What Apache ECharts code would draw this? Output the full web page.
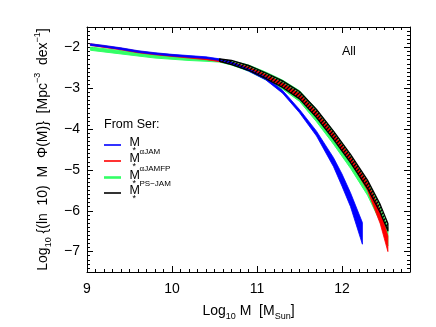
<!DOCTYPE html>
<html>
<head>
<meta charset="utf-8">
<script src="https://cdn.jsdelivr.net/npm/echarts@6/dist/echarts.min.js"></script>
<style>
html,body{margin:0;padding:0;background:#fff;}
#chart{width:436px;height:327px;}
</style>
</head>
<body>
<div id="chart"></div>
<script>
// ---- Data ----
const xTicks = [9, 10, 11, 12];
const yTicks = [-7, -6, -5, -4, -3, -2];

// M* (blue)
const blueX  = [9.04, 9.2, 9.4, 9.6, 9.8, 10.0, 10.2, 10.4, 10.56, 10.7, 10.9, 11.1, 11.3, 11.5, 11.7, 11.9, 12.0, 12.1, 12.24];
const blueHi = [-1.91, -1.95, -2.01, -2.08, -2.13, -2.17, -2.20, -2.23, -2.28, -2.36, -2.53, -2.73, -3.05, -3.52, -4.05, -4.70, -5.10, -5.56, -6.29];
const blueLo = [-1.95, -1.99, -2.05, -2.12, -2.17, -2.21, -2.24, -2.27, -2.32, -2.40, -2.58, -2.79, -3.12, -3.60, -4.17, -4.92, -5.40, -5.90, -6.82];

// M*^alphaJAM (red)
const redX  = [9.04, 9.2, 9.4, 9.6, 9.8, 10.0, 10.2, 10.4, 10.56, 10.7, 10.9, 11.1, 11.3, 11.5, 11.7, 11.9, 12.1, 12.3, 12.45, 12.54];
const redHi = [-1.91, -1.96, -2.02, -2.09, -2.14, -2.18, -2.22, -2.26, -2.31, -2.36, -2.48, -2.66, -2.87, -3.13, -3.58, -4.11, -4.68, -5.31, -6.00, -6.62];
const redLo = [-1.95, -2.00, -2.06, -2.13, -2.18, -2.22, -2.26, -2.30, -2.35, -2.40, -2.54, -2.74, -2.96, -3.24, -3.70, -4.23, -4.80, -5.50, -6.32, -7.00];

// M*^alphaJAMFP (green)
const greenX  = [9.04, 9.2, 9.4, 9.6, 9.8, 10.0, 10.2, 10.4, 10.56, 10.7, 10.9, 11.1, 11.3, 11.5, 11.7, 11.9, 12.1, 12.3, 12.45, 12.54];
const greenHi = [-1.99, -2.03, -2.08, -2.13, -2.18, -2.22, -2.25, -2.28, -2.29, -2.33, -2.43, -2.60, -2.80, -3.06, -3.52, -4.06, -4.64, -5.28, -5.90, -6.42];
const greenLo = [-2.07, -2.11, -2.16, -2.21, -2.26, -2.29, -2.32, -2.34, -2.36, -2.43, -2.58, -2.79, -3.02, -3.32, -3.82, -4.37, -4.96, -5.62, -6.27, -6.86];

// M*^PS-JAM (black, hatched)
const blackX  = [10.56, 10.7, 10.9, 11.1, 11.3, 11.5, 11.7, 11.9, 12.1, 12.3, 12.45, 12.54];
const blackHi = [-2.28, -2.32, -2.44, -2.62, -2.82, -3.08, -3.52, -4.05, -4.62, -5.25, -5.85, -6.31];
const blackLo = [-2.34, -2.42, -2.56, -2.76, -2.98, -3.26, -3.72, -4.25, -4.82, -5.45, -6.05, -6.49];

// ---- Chart ----
const FONT = 'Liberation Sans';
const chart = echarts.init(document.getElementById('chart'), null, {renderer: 'canvas'});

// hatch pattern for the black band
const pc = document.createElement('canvas');
pc.width = 4; pc.height = 4;
const pctx = pc.getContext('2d');
pctx.strokeStyle = '#000'; pctx.lineWidth = 1.3;
pctx.beginPath(); pctx.moveTo(-1, 5); pctx.lineTo(5, -1); pctx.stroke();
pctx.beginPath(); pctx.moveTo(-1, 1); pctx.lineTo(1, -1); pctx.stroke();
pctx.beginPath(); pctx.moveTo(3, 5); pctx.lineTo(5, 3); pctx.stroke();

function band(xs, hi, lo, fill, stroke, lw, z) {
  return {
    type: 'custom',
    xAxisIndex: 0, yAxisIndex: 0,
    z: z, silent: true, clip: true,
    data: [[xs[0], hi[0]]],
    renderItem: function (params, api) {
      const pts = [];
      for (let i = 0; i < xs.length; i++) pts.push(api.coord([xs[i], hi[i]]));
      for (let i = xs.length - 1; i >= 0; i--) pts.push(api.coord([xs[i], lo[i]]));
      return {type: 'polygon', shape: {points: pts}, style: {fill: fill, stroke: stroke, lineWidth: lw, lineJoin: 'round'}};
    }
  };
}

const axisBase = {type: 'value', min: 9, max: 12.8, splitLine: {show: false}};
const yBase = {type: 'value', min: -7.5, max: -1.5, splitLine: {show: false}};
const lineStyle = {color: '#000', width: 1};

const xAxes = [
  Object.assign({}, axisBase, {
    position: 'bottom', interval: 1,
    axisLine: {show: true, onZero: false, lineStyle: lineStyle},
    axisTick: {show: true, inside: true, length: 6, lineStyle: lineStyle},
    axisLabel: {show: true, margin: 10, color: '#000', fontSize: 14, fontFamily: FONT,
      showMaxLabel: false, formatter: v => (xTicks.indexOf(v) >= 0 ? String(v) : '')},
    name: 'Log{s|10} M  [M{s|Sun}]',
    nameLocation: 'middle', nameGap: 24,
    nameTextStyle: {fontSize: 14, fontFamily: FONT, color: '#000', lineHeight: 20, verticalAlign: 'middle',
      rich: {
        s: {fontSize: 9, fontFamily: FONT, color: '#000', lineHeight: 20, verticalAlign: 'bottom'}
      }}
  }),
  Object.assign({}, axisBase, {
    position: 'bottom', interval: 0.1,
    axisLine: {show: false, onZero: false},
    axisTick: {show: true, inside: true, length: 3, lineStyle: lineStyle},
    axisLabel: {show: false}
  }),
  Object.assign({}, axisBase, {
    position: 'top', interval: 1,
    axisLine: {show: true, onZero: false, lineStyle: lineStyle},
    axisTick: {show: true, inside: true, length: 6, lineStyle: lineStyle},
    axisLabel: {show: false}
  }),
  Object.assign({}, axisBase, {
    position: 'top', interval: 0.1,
    axisLine: {show: false, onZero: false},
    axisTick: {show: true, inside: true, length: 3, lineStyle: lineStyle},
    axisLabel: {show: false}
  })
];

const yAxes = [
  Object.assign({}, yBase, {
    position: 'left', interval: 0.5,
    axisLine: {show: true, onZero: false, lineStyle: lineStyle},
    axisTick: {show: true, inside: true, length: 6, lineStyle: lineStyle, customValues: yTicks},
    axisLabel: {show: true, margin: 7, color: '#000', fontSize: 14, fontFamily: FONT,
      customValues: yTicks, formatter: v => String(v).replace('-', '\u2212')},
    name: 'Log{s|10} {(ln  10)  M  \u03A6(M)}  [Mpc{p|\u22123}  dex{p|\u22121}]',
    nameLocation: 'middle', nameGap: 35, nameRotate: 90,
    nameTextStyle: {fontSize: 14, fontFamily: FONT, color: '#000', lineHeight: 20, verticalAlign: 'middle',
      rich: {
        s: {fontSize: 9, fontFamily: FONT, color: '#000', lineHeight: 20, verticalAlign: 'bottom'},
        p: {fontSize: 9, fontFamily: FONT, color: '#000', lineHeight: 20, verticalAlign: 'top'}
      }}
  }),
  Object.assign({}, yBase, {
    position: 'left', interval: 0.1,
    axisLine: {show: false, onZero: false},
    axisTick: {show: true, inside: true, length: 3, lineStyle: lineStyle},
    axisLabel: {show: false}
  }),
  Object.assign({}, yBase, {
    position: 'right', interval: 0.5,
    axisLine: {show: true, onZero: false, lineStyle: lineStyle},
    axisTick: {show: true, inside: true, length: 6, lineStyle: lineStyle, customValues: yTicks},
    axisLabel: {show: false}
  }),
  Object.assign({}, yBase, {
    position: 'right', interval: 0.1,
    axisLine: {show: false, onZero: false},
    axisTick: {show: true, inside: true, length: 3, lineStyle: lineStyle},
    axisLabel: {show: false}
  })
];

// legend (drawn as graphics)
const legendItems = [
  {color: '#0000ff', sup: '', y: 145, w: 1.6},
  {color: '#ff0000', sup: '\u03B1JAM', y: 161, w: 1.6},
  {color: '#33ff66', sup: '\u03B1JAMFP', y: 177.5, w: 2.6},
  {color: '#000000', sup: 'PS\u2212JAM', y: 193, w: 1.6}
];
const graphics = [
  {type: 'text', left: 104, top: 118, style: {text: 'From Ser:', fontSize: 12.5, fontFamily: FONT, fill: '#000'}},
  {type: 'text', left: 342, top: 45, style: {text: 'All', fontSize: 12.5, fontFamily: FONT, fill: '#000'}}
];
legendItems.forEach(it => {
  graphics.push({type: 'line', shape: {x1: 104, y1: it.y, x2: 121, y2: it.y}, style: {stroke: it.color, lineWidth: it.w}});
  graphics.push({type: 'text', x: 129.5, y: it.y - 2, style: {text: 'M', fontSize: 12.5, fontFamily: FONT, fill: '#000', verticalAlign: 'middle'}});
  graphics.push({type: 'text', x: 132.5, y: it.y + 6, style: {text: '*', fontSize: 9, fontFamily: FONT, fill: '#000', verticalAlign: 'middle'}});
  if (it.sup) graphics.push({type: 'text', x: 139.5, y: it.y - 9, style: {text: it.sup, fontSize: 8, fontFamily: FONT, fill: '#000', verticalAlign: 'middle'}});
});

chart.setOption({
  animation: false,
  backgroundColor: '#fff',
  grid: {left: 87, right: 26, top: 27, bottom: 55, containLabel: false},
  xAxis: xAxes,
  yAxis: yAxes,
  graphic: graphics,
  series: [
    band(greenX, greenHi, greenLo, '#33ff66', '#33ff66', 1, 2),
    band(redX, redHi, redLo, '#ff0000', '#ff0000', 0.8, 3),
    band(blueX, blueHi, blueLo, '#0000ff', '#0000ff', 0.8, 4),
    band(blackX, blackHi, blackLo, {image: pc, repeat: 'repeat'}, '#000', 1.3, 5)
  ]
});
</script>
</body>
</html>
